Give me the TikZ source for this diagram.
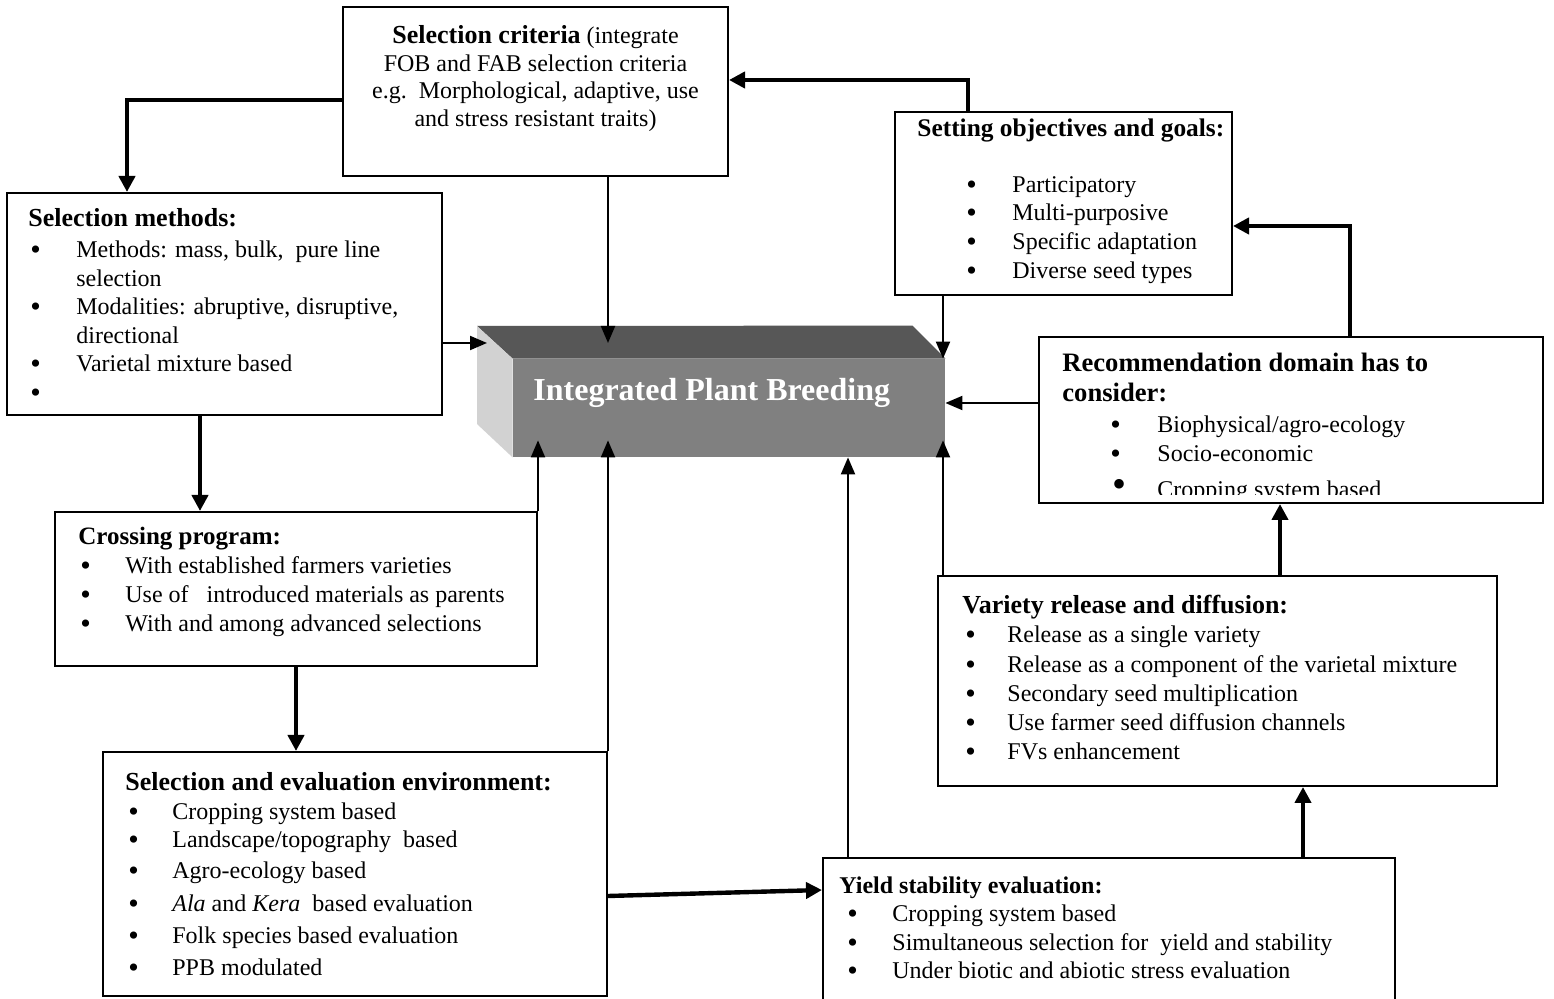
\documentclass[tikz,border=0pt]{standalone}
\usepackage{fontspec}
\setmainfont{Liberation Serif}
\usetikzlibrary{arrows.meta,fit,calc}
\definecolor{ipbtop}{HTML}{575757}
\definecolor{ipbfront}{HTML}{808080}
\definecolor{ipbside}{HTML}{D2D2D2}
\newcommand\bigbul{\smash{\raisebox{-1pt}{\fontsize{15}{15}\selectfont\textbullet}}}
\newcommand\bu[2]{\hspace*{#1}\makebox[#2][l]{\bigbul}}
\begin{document}
\begin{tikzpicture}[x=0.5pt,y=-0.5pt,
  box/.style={draw=black,line width=1pt,inner sep=0pt,fill=white},
  thk/.style={line width=2.2pt,-{Triangle[length=8pt,width=8pt]}},
  thn/.style={line width=1pt,-{Triangle[length=8.5pt,width=7pt]}},
  txt/.style={anchor=north west,inner sep=0pt,align=left,font=\fontsize{12}{14.3}\selectfont},
]
\useasboundingbox (0,0) rectangle (1554,999);
\fill[white] (0,0) rectangle (1554,999);
\clip (0,0) rectangle (1554,999);

% boxes
\node[box,fit={(343,7)(728,176)}] (crit) {};
\node[box,fit={(7,193)(442,415)}] (meth) {};
\node[box,fit={(895,112)(1232,295)}] (setg) {};
\node[box,fit={(1039,337)(1543,503)}] (rec) {};
\node[box,fit={(55,512)(537,666)}] (cross) {};
\node[box,fit={(938,576)(1497,786)}] (var) {};
\node[box,fit={(103,752)(607,996)}] (env) {};
\node[box,fit={(823,858)(1395,1030)}] (yield) {};

% central block
\node[fit={(513,359)(945,457)},inner sep=0pt,fill=ipbfront] (ipb) {};
\fill[ipbtop] (ipb.north west) -- (ipb.north east) -- ++(-33,-33) -- (477,326) -- cycle;
\fill[ipbside] (ipb.north west) -- (477,326) -- (477,424) -- (ipb.south west) -- cycle;
\node[anchor=base west,inner sep=0pt,text=white,font=\fontsize{16}{18}\selectfont\bfseries] (ipbtxt) at (533,401) {Integrated Plant Breeding};

% texts
\node[anchor=north,inner sep=0pt,align=center,font=\fontsize{12}{13.85}\selectfont] (critt) at (535.5,25)
 {{\fontsize{13}{13.85}\selectfont\bfseries Selection criteria} (integrate\\
  FOB and FAB selection criteria\\
  e.g.\ \ Morphological, adaptive, use\\
  and stress resistant traits)};

\node[txt] (metht) at (28,208)
 {{\fontsize{13}{14.3}\selectfont\bfseries Selection methods:}\\[1.2pt]
  \bu{1pt}{23pt}Methods: mass, bulk,\ \ pure line\\
  \hspace*{24pt}selection\\
  \bu{1pt}{23pt}Modalities: abruptive, disruptive,\\
  \hspace*{24pt}directional\\
  \bu{1pt}{23pt}Varietal mixture based\\
  \bu{1pt}{23pt}};

\node[txt,font=\fontsize{12}{14.35}\selectfont] (setgt) at (917,118)
 {{\fontsize{12.7}{14.35}\selectfont\bfseries Setting objectives and goals:}\\[13.65pt]
  \bu{24.5pt}{23pt}Participatory\\
  \bu{24.5pt}{23pt}Multi-purposive\\
  \bu{24.5pt}{23pt}Specific adaptation\\
  \bu{24.5pt}{23pt}Diverse seed types};

\node[txt,font=\fontsize{12}{14.5}\selectfont] (rect) at (1062,353)
 {{\fontsize{13.3}{14.5}\selectfont\bfseries Recommendation domain has to}\\[0.5pt]
  {\fontsize{13.3}{14.5}\selectfont\bfseries consider:}\\[1pt]
  \bu{24pt}{23.5pt}Biophysical/agro-ecology\\
  \bu{24pt}{23.5pt}Socio-economic};
\begin{scope}
\clip (1040,338) rectangle (1542,495);
\node[anchor=base west,inner sep=0pt,font=\fontsize{12}{14.5}\selectfont] (rec3) at (1110,498)
 {\makebox[23.5pt][l]{\hspace*{1pt}\smash{\fontsize{20}{20}\selectfont\textbullet}}Cropping system based};
\end{scope}

\node[txt,font=\fontsize{12}{14.6}\selectfont] (vart) at (962,595)
 {{\fontsize{13}{14.6}\selectfont\bfseries Variety release and diffusion:}\\
  \bu{1.5pt}{21pt}Release as a single variety\\
  \bu{1.5pt}{21pt}Release as a component of the varietal mixture\\
  \bu{1.5pt}{21pt}Secondary seed multiplication\\
  \bu{1.5pt}{21pt}Use farmer seed diffusion channels\\
  \bu{1.5pt}{21pt}FVs enhancement};

\node[txt,font=\fontsize{12}{14.5}\selectfont] (crosst) at (78,527)
 {{\fontsize{12.5}{14.5}\selectfont\bfseries Crossing program:}\\
  \bu{1pt}{22.5pt}With established farmers varieties\\
  \bu{1pt}{22.5pt}Use of\ \ \ introduced materials as parents\\
  \bu{1pt}{22.5pt}With and among advanced selections};

\node[txt,font=\fontsize{12}{14}\selectfont] (envt) at (125,772)
 {{\fontsize{13}{14}\selectfont\bfseries Selection and evaluation environment:}\\[0.5pt]
  \bu{1.5pt}{22pt}Cropping system based\\
  \bu{1.5pt}{22pt}Landscape/topography\ \ based\\[1.5pt]
  \bu{1.5pt}{22pt}Agro-ecology based\\[2.5pt]
  \bu{1.5pt}{22pt}\textit{Ala} and \textit{Kera}\ \ based evaluation\\[2pt]
  \bu{1.5pt}{22pt}Folk species based evaluation\\[2pt]
  \bu{1.5pt}{22pt}PPB modulated};

\node[txt,font=\fontsize{12}{14.3}\selectfont] (yieldt) at (839,876)
 {{\fontsize{12}{14.3}\selectfont\bfseries Yield stability evaluation:}\\
  \bu{4pt}{22.5pt}Cropping system based\\
  \bu{4pt}{22.5pt}Simultaneous selection for\ \ yield and stability\\
  \bu{4pt}{22.5pt}Under biotic and abiotic stress evaluation};

% connectors
\coordinate (topface) at (608,343);
\coordinate (leftface) at (487,343);
\draw[thk] (crit.west |- 0,100) -| (meth.north -| 127,0);
\draw[thn] (crit.south -| topface) -- (topface);
\draw[thk] (setg.north -| 968,0) |- (crit.east |- 0,80);
\draw[thn] (setg.south -| 943,0) -- (ipb.north -| 943,0);
\draw[thk] (rec.north -| 1350,0) |- (setg.east |- 0,226);
\draw[thn] (rec.west |- 0,403) -- (ipb.east |- 0,403);
\draw[thn] (meth.east |- leftface) -- (leftface);
\draw[thk] (meth.south -| 200,0) -- (cross.north -| 200,0);
\draw[thn] (cross.north east) -- ($(ipb.south -| cross.north east)+(0,-17)$);
\draw[thk] (cross.south -| 296,0) -- (env.north -| 296,0);
\draw[thn] (env.north east) -- ($(ipb.south -| env.north east)+(0,-17)$);
\draw[thk] (env.east |- 0,896) -- (yield.west |- 0,890);
\draw[thn] (yield.north -| 848,0) -- (ipb.south -| 848,0);
\draw[thk] (yield.north -| 1303,0) -- (var.south -| 1303,0);
\draw[thn] (var.north -| 943,0) -- ($(ipb.south -| 943,0)+(0,-17)$);
\draw[thk] (var.north -| 1280,0) -- (rec.south -| 1280,0);
\end{tikzpicture}
\end{document}
